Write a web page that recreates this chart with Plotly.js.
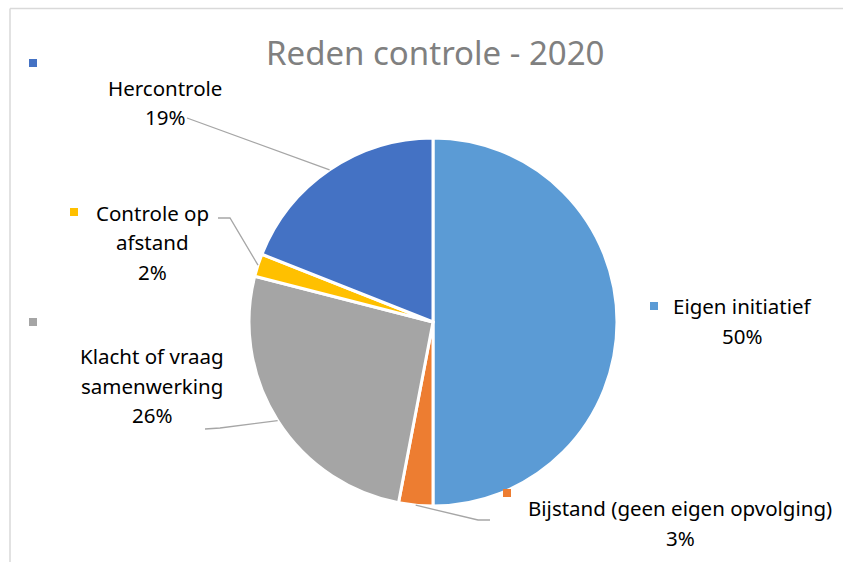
<!DOCTYPE html>
<html>
<head>
<meta charset="utf-8">
<script src="https://cdn.plot.ly/plotly-3.0.1.min.js"></script>
<style>html,body{margin:0;padding:0;background:#fff;}#chart{width:843px;height:562px;}</style>
</head>
<body>
<div id="chart"></div>
<script>
// ---- data ----
const chartTitle = "Reden controle - 2020";
const categories = ["Eigen initiatief", "Bijstand (geen eigen opvolging)", "Klacht of vraag samenwerking", "Controle op afstand", "Hercontrole"];
const labelLines = [["Eigen initiatief"], ["Bijstand (geen eigen opvolging)"], ["Klacht of vraag", "samenwerking"], ["Controle op", "afstand"], ["Hercontrole"]];
const values = [50, 3, 26, 2, 19];
const colors = ["#5B9BD5", "#ED7D31", "#A5A5A5", "#FFC000", "#4472C4"];

// ---- layout constants (pixels) ----
const W = 843, H = 562;
const cx = 433, cy = 322, R = 184;
const lineGap = 29.5;
const FONT = "'Noto Sans', Lato, sans-serif";
const labelPos = [
  {x: 742, y: 306, key: [654, 306], leader: null},
  {x: 680, y: 508, key: [507, 493], leader: [[490, 520], [478, 520]]},
  {x: 152, y: 356, key: [33, 322], leader: [[205, 429], [220, 428]]},
  {x: 152, y: 213, key: [74, 212], leader: [[218, 218], [230, 218]]},
  {x: 165, y: 88, key: [33, 63], leader: [[187, 118]]}
];

const px = x => x / W;
const py = y => 1 - y / H;

const total = values.reduce((a, b) => a + b, 0);
const annotations = [];
const shapes = [];

// chart-area border
shapes.push({type: 'line', xref: 'paper', yref: 'paper', x0: px(10), x1: px(10), y0: -0.01, y1: py(8.5), line: {color: '#d9d9d9', width: 1.5}});
shapes.push({type: 'line', xref: 'paper', yref: 'paper', x0: px(10), x1: 1.01, y0: py(8.5), y1: py(8.5), line: {color: '#d9d9d9', width: 1.5}});

let cum = 0;
values.forEach((v, i) => {
  const mid = (cum + v / 2) / total * 2 * Math.PI;
  cum += v;
  const ax = cx + R * Math.sin(mid), ay = cy - R * Math.cos(mid);
  const pos = labelPos[i];
  const lines = labelLines[i].concat([Math.round(v / total * 100) + '%']);
  lines.forEach((t, k) => {
    annotations.push({xref: 'paper', yref: 'paper', x: px(pos.x), y: py(pos.y + k * lineGap), text: t, showarrow: false,
      xanchor: 'center', yanchor: 'middle', font: {family: FONT, size: 20.5, color: '#000'}});
  });
  const ks = 4;
  shapes.push({type: 'rect', xref: 'paper', yref: 'paper', x0: px(pos.key[0] - ks), x1: px(pos.key[0] + ks), y0: py(pos.key[1] + ks), y1: py(pos.key[1] - ks),
    fillcolor: colors[i], line: {width: 0}});
  if (pos.leader) {
    const pts = pos.leader.concat([[ax, ay]]);
    let path = 'M ' + px(pts[0][0]) + ',' + py(pts[0][1]);
    for (let j = 1; j < pts.length; j++) path += ' L ' + px(pts[j][0]) + ',' + py(pts[j][1]);
    shapes.push({type: 'path', xref: 'paper', yref: 'paper', path: path, line: {color: '#a6a6a6', width: 1.3}});
  }
});

annotations.push({xref: 'paper', yref: 'paper', x: px(435), y: py(52), text: chartTitle, showarrow: false,
  xanchor: 'center', yanchor: 'middle', font: {family: FONT, size: 33, color: '#808080'}});

const trace = {
  type: 'pie',
  labels: categories,
  values: values,
  sort: false,
  direction: 'clockwise',
  rotation: 0,
  textinfo: 'none',
  hoverinfo: 'label+percent',
  marker: {colors: colors, line: {color: '#ffffff', width: 3}},
  domain: {x: [px(cx - R), px(cx + R)], y: [py(cy + R), py(cy - R)]}
};

const layout = {
  width: W, height: H,
  margin: {l: 0, r: 0, t: 0, b: 0},
  showlegend: false,
  paper_bgcolor: '#ffffff',
  annotations: annotations,
  shapes: shapes
};

Plotly.newPlot('chart', [trace], layout, {displayModeBar: false, staticPlot: true});
</script>
</body>
</html>
